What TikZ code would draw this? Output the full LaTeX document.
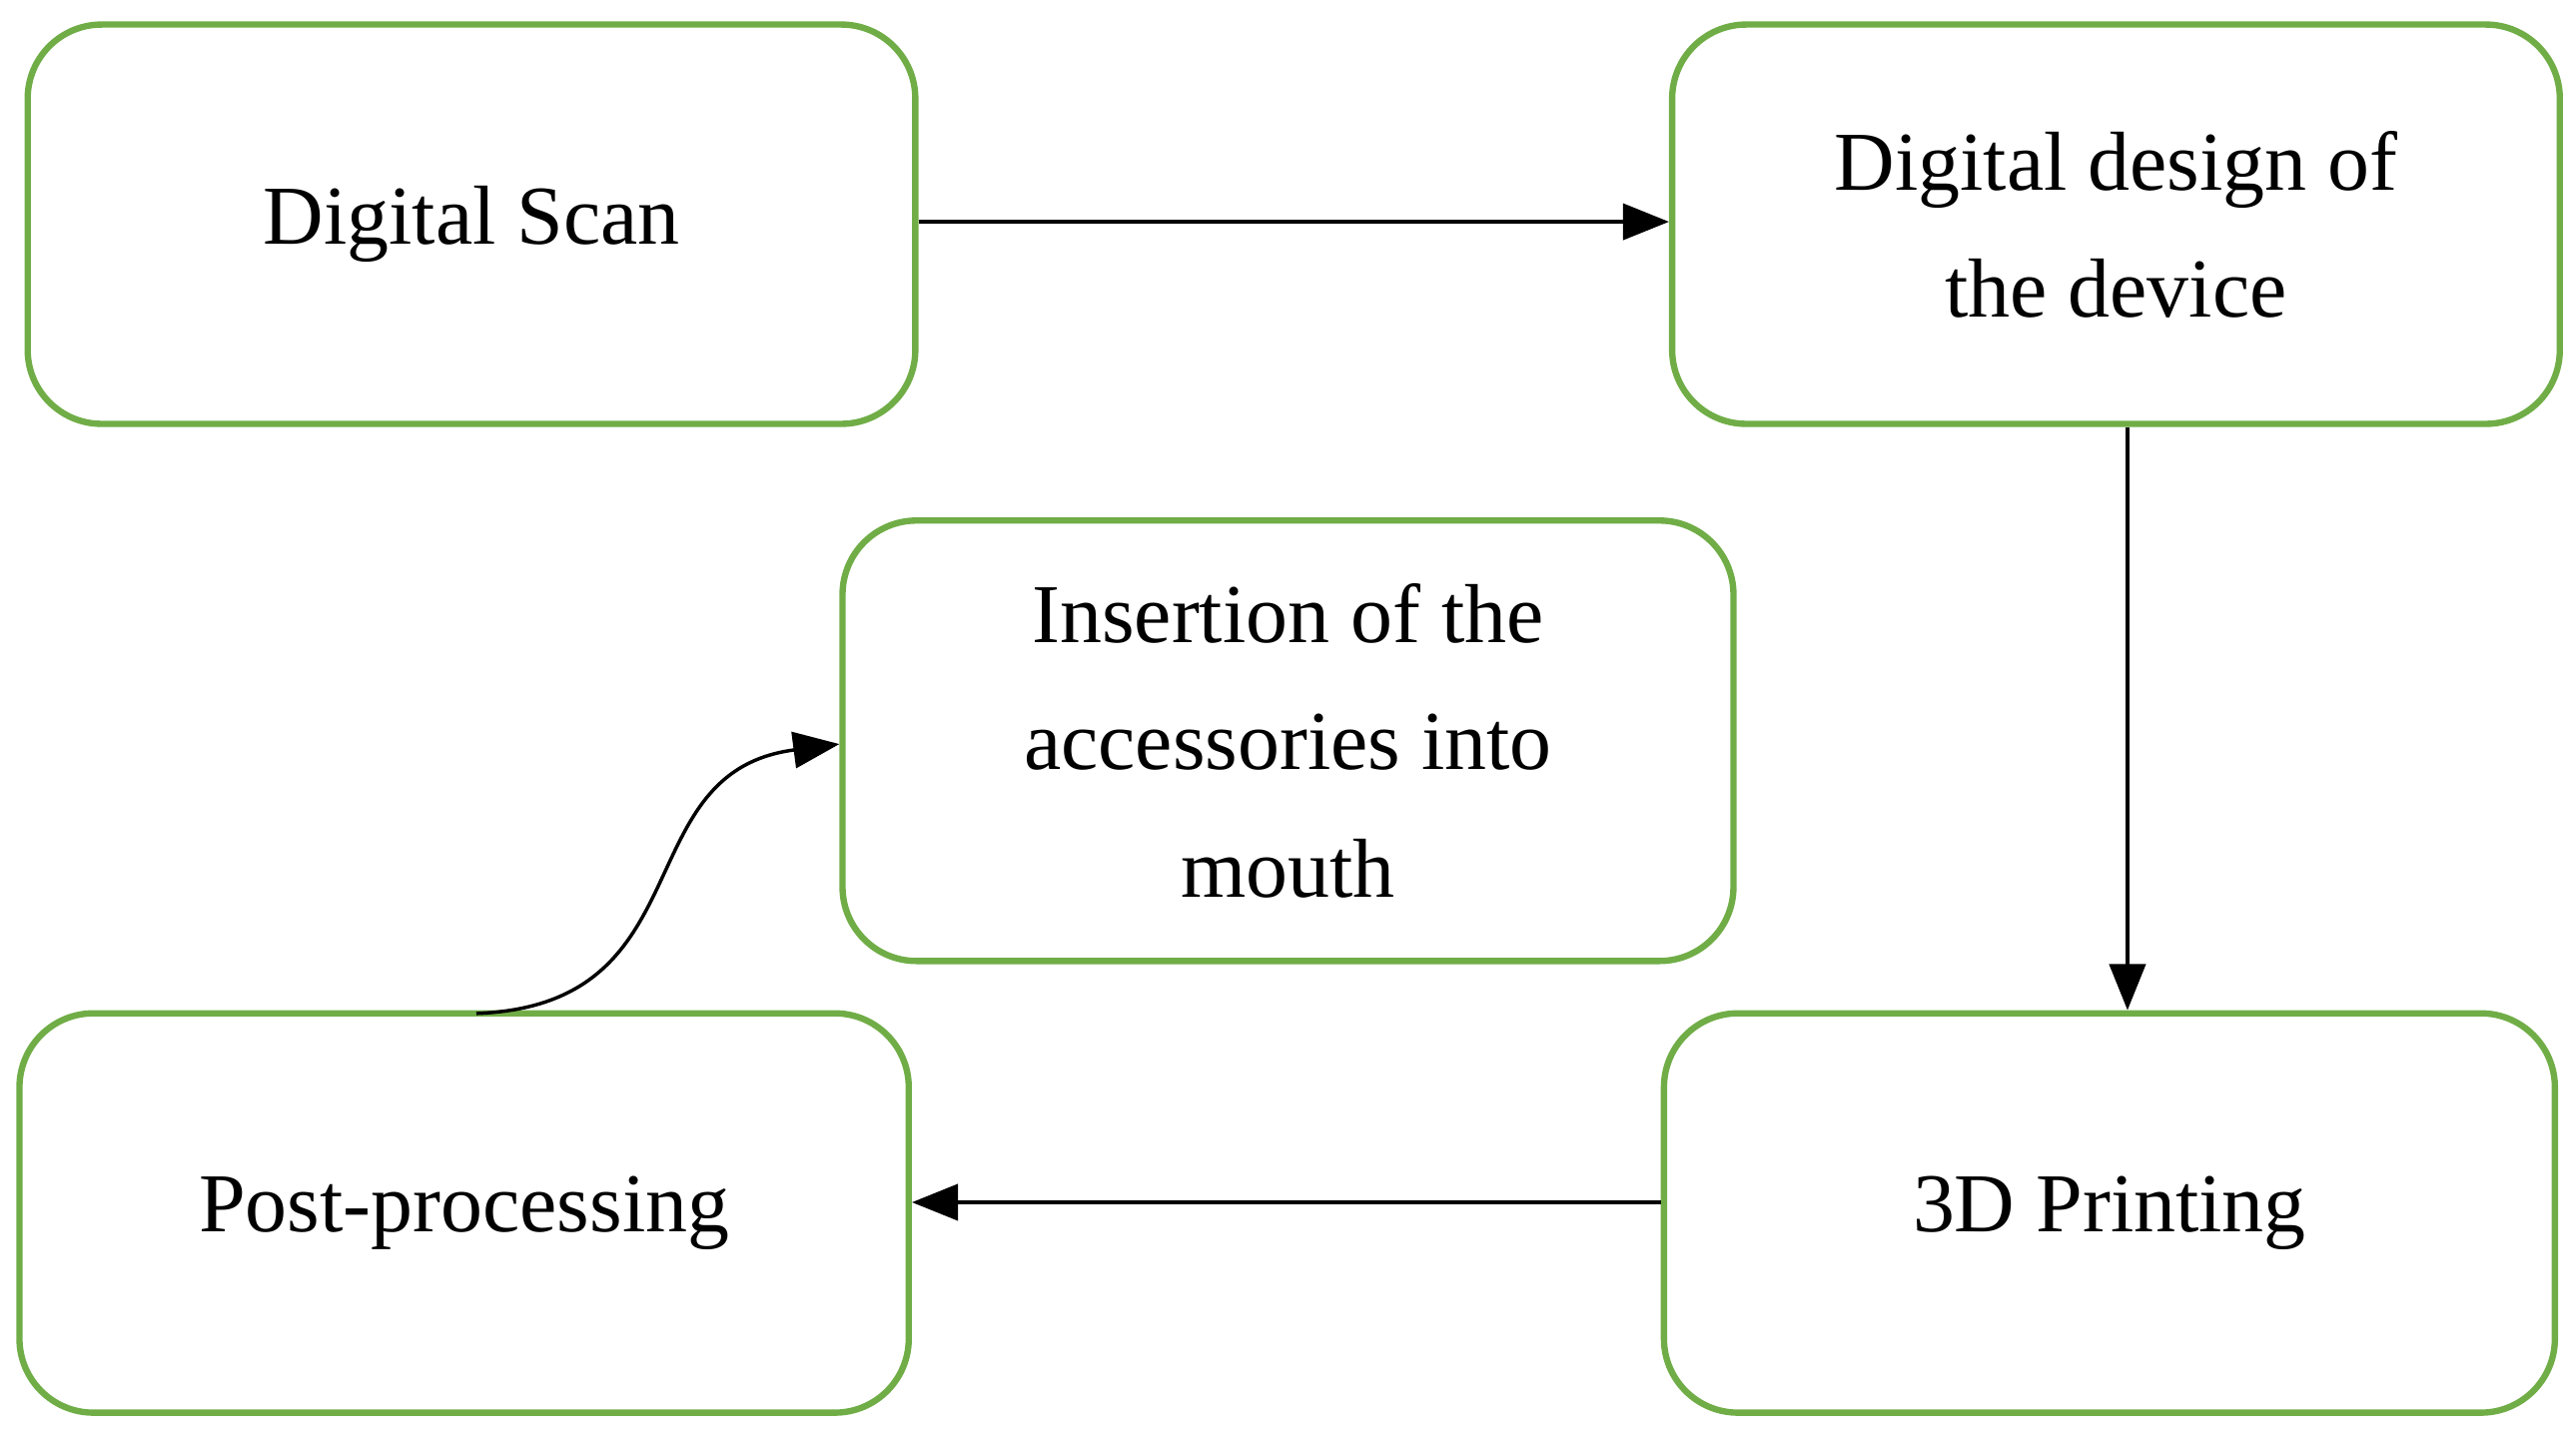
\documentclass[tikz,border=0pt]{standalone}
\usepackage{fontspec}
\setmainfont{Liberation Serif}
\usetikzlibrary{arrows.meta}
\definecolor{boxgreen}{RGB}{112,173,71}
\begin{document}
\begin{tikzpicture}[x=0.01cm,y=-0.01cm,
  box/.style={draw=boxgreen,line width=1.1pt,rounded corners=0.45cm,align=center,font=\fontsize{14.5pt}{22pt}\selectfont,inner sep=0pt},
  arr/.style={-{Triangle[length=0.28cm,width=0.22cm]},line width=0.6pt}]
\useasboundingbox (0,0) rectangle (1568,875);
\node[box,minimum width=5.40cm,minimum height=2.43cm] (scan) at (287,136.5) {Digital Scan};
\node[box,minimum width=5.40cm,minimum height=2.43cm] (design) at (1288,136.5) {Digital design of\\the device};
\node[box,minimum width=5.42cm,minimum height=2.68cm] (ins) at (784,451) {Insertion of the\\accessories into\\mouth};
\node[box,minimum width=5.41cm,minimum height=2.43cm] (post) at (282.5,738.5) {\raisebox{0.05cm}{Post-processing}};
\node[box,minimum width=5.42cm,minimum height=2.43cm] (print) at (1284,738.5) {\raisebox{-0.12cm}{3D Printing}};
\draw[arr] (scan.east|-0,135) -- (design.west|-0,135);
\draw[arr] (design.south-|1295,0) -- (print.north-|1295,0);
\draw[arr] (print.west|-0,732) -- (post.east|-0,732);
\coordinate (cs) at (290,617);
\draw[arr] (cs) .. controls (430,612) and (380,470) .. (ins.west|-0,453);
\end{tikzpicture}
\end{document}
